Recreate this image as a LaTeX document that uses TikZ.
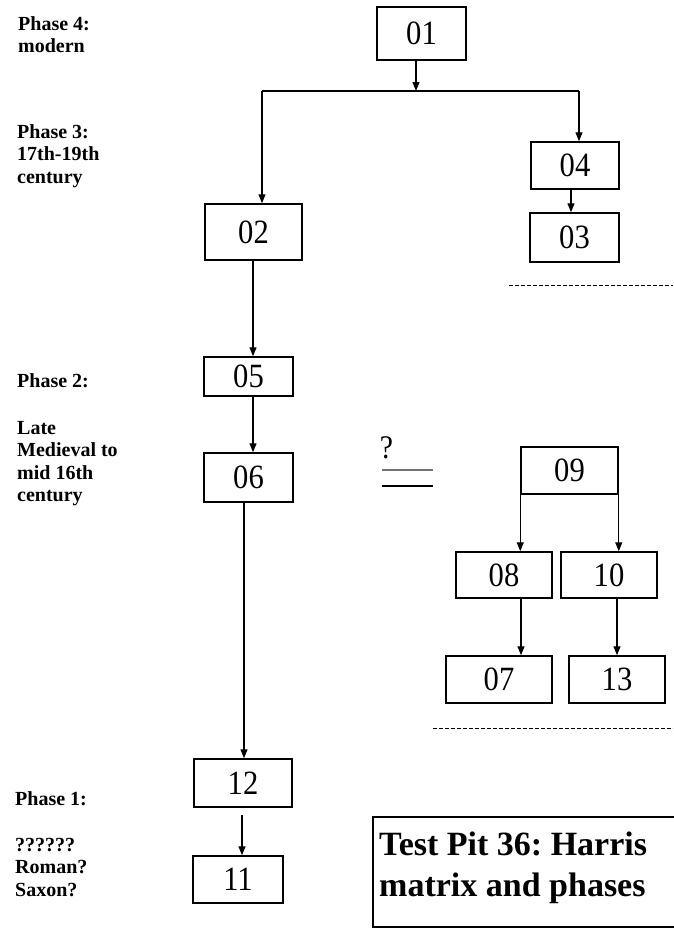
\documentclass[tikz,border=0pt]{standalone}
\usepackage{fontspec}
\setmainfont{Liberation Serif}
\newfontfamily\numfont[FakeStretch=0.9]{Liberation Serif}
\usetikzlibrary{arrows.meta,calc}
\frenchspacing
\begin{document}
\begin{tikzpicture}[x=1pt,y=-1pt,
  box/.style={draw,line width=1.5pt,inner sep=0pt,font=\numfont\fontsize{34}{34}\selectfont},
  arr/.style={line width=1.2pt,-{Triangle[length=9pt,width=7pt]}},
  conn/.style={line width=1.2pt},
  lab/.style={anchor=base west,align=left,inner sep=0pt,font=\bfseries\fontsize{20}{22.5}\selectfont},
  dashline/.style={line width=1pt,dash pattern=on 4pt off 2pt},
]
\useasboundingbox (0,0) rectangle (673,929);

% boxes
\node[box,minimum width=89pt,minimum height=53pt] (n01) at (421.5,33.5) {01};
\node[box,minimum width=88pt,minimum height=47pt] (n04) at (575,165.5) {04};
\node[box,minimum width=89pt,minimum height=49pt] (n03) at (574.5,237.5) {03};
\node[box,minimum width=97pt,minimum height=56pt] (n02) at (253.5,232) {02};
\node[box,minimum width=89pt,minimum height=39pt] (n05) at (248.5,376.5) {05};
\node[box,minimum width=89pt,minimum height=49pt] (n06) at (248.5,477.5) {06};
\node[box,minimum width=97pt,minimum height=47pt] (n09) at (569.5,470.5) {09};
\node[box,minimum width=96pt,minimum height=46pt] (n08) at (504,575) {08};
\node[box,minimum width=96pt,minimum height=46pt] (n10) at (609,575) {10};
\node[box,minimum width=106pt,minimum height=47pt] (n07) at (499,679.5) {07};
\node[box,minimum width=96pt,minimum height=47pt] (n13) at (617,679.5) {13};
\node[box,minimum width=98pt,minimum height=48pt] (n12) at (243,783) {12};
\node[box,minimum width=90pt,minimum height=47pt] (n11) at (238,879.5) {11};

% phase labels (base anchor = baseline of the last line)
\node[lab] (ph4) at (18,52.5) {Phase 4:\\modern};
\node[lab] (ph3) at (17,183) {Phase 3:\\17th-19th\\century};
\node[lab] (ph2) at (17,387) {Phase 2:};
\node[lab] (ph2b) at (17,501.5) {Late\\Medieval to\\mid 16th\\century};
\node[lab] (ph1) at (15,805) {Phase 1:};
\node[lab] (ph1b) at (15,896) {??????\\Roman?\\Saxon?};

% question mark and equals
\node[font=\numfont\fontsize{33}{33}\selectfont,inner sep=0pt,anchor=base] (q) at (386.5,458) {?};
\draw[line width=2pt,black!55] (382,470) -- (433,470);
\draw[line width=1.2pt] (382,486) -- (433,486);

% dashed phase separators
\draw[dashline] (509,285) -- (673,285);
\draw[dashline] (433,728) -- (673,728);

% title
\draw[line width=2.2pt] (680,817) -- (373,817) -- (373,927) -- (680,927);
\node[anchor=base west,align=left,inner sep=0pt,font=\bfseries\fontsize{34}{41}\selectfont] (title) at (379,896) {Test Pit 36: Harris\\matrix and phases};

% connectors
\coordinate (jm) at (416,91);
\coordinate (jl) at (262,91);
\coordinate (jr) at (579,91);
\draw[arr] (n01.south -| jm) -- (jm);
\draw[conn] (jl) -- (jr);
\draw[arr] (jl) -- (jl |- n02.north);
\draw[arr] (jr) -- (jr |- n04.north);
\coordinate (c43) at (571,0);
\draw[arr] (n04.south -| c43) -- (n03.north -| c43);
\coordinate (c25) at (253,0);
\draw[arr] (n02.south -| c25) -- (n05.north -| c25);
\draw[arr] (n05.south -| c25) -- (n06.north -| c25);
\coordinate (c612) at (244,0);
\draw[arr] (n06.south -| c612) -- (n12.north -| c612);
\coordinate (c1211) at (242,0);
\draw[arr] ($(n12.south -| c1211)+(0,7)$) -- (n11.north -| c1211);
\draw[arr] (n09.south west) -- (n09.south west |- n08.north);
\draw[arr] (n09.south east) -- (n09.south east |- n10.north);
\coordinate (c87) at (521,0);
\draw[arr] (n08.south -| c87) -- (n07.north -| c87);
\coordinate (c1013) at (617,0);
\draw[arr] (n10.south -| c1013) -- (n13.north -| c1013);
\end{tikzpicture}
\end{document}
